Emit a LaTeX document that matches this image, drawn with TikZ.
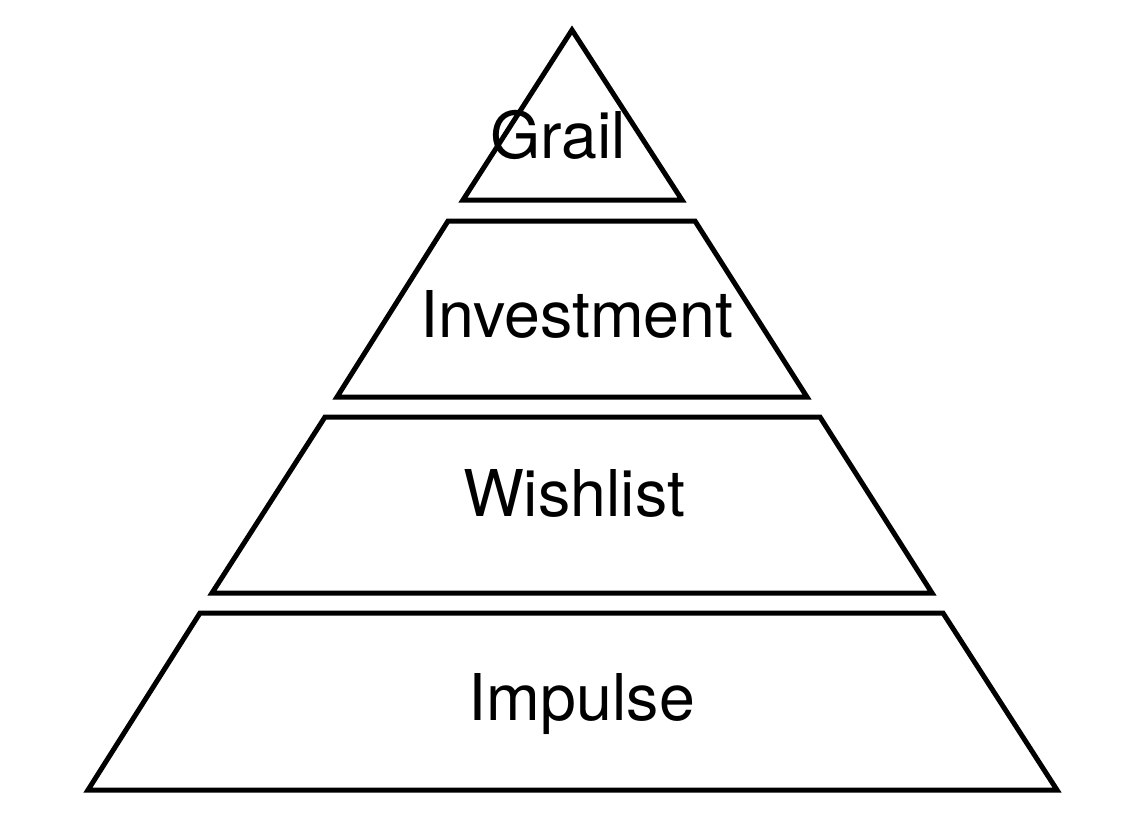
\documentclass[tikz,border=0pt]{standalone}
\usepackage{fontspec}
\setmainfont{TeX Gyre Heros}
\begin{document}
\begin{tikzpicture}[x=1pt,y=-1pt,
  tier/.style={draw=black,line width=5pt,line join=miter,fill=white},
  lbl/.style={font=\fontsize{64.5}{72}\selectfont,anchor=base,inner sep=0pt,text=black}]
\useasboundingbox (0,0) rectangle (1125,833);
\fill[white] (0,0) rectangle (1125,833);
\draw[tier] (572,30) -- (682,200) -- (463,200) -- cycle;
\draw[tier] (448,221) -- (695,221) -- (807,397) -- (337,397) -- cycle;
\draw[tier] (325,417) -- (820,417) -- (932,593) -- (212,593) -- cycle;
\draw[tier] (200,613) -- (943,613) -- (1057,790) -- (88,790) -- cycle;
\node[lbl] (grail) at (558,158) {Grail};
\node[lbl] (invest) at (577,337) {Investment};
\node[lbl] (wish) at (574,516) {Wishlist};
\node[lbl] (impulse) at (582,720) {Impulse};
\end{tikzpicture}
\end{document}
